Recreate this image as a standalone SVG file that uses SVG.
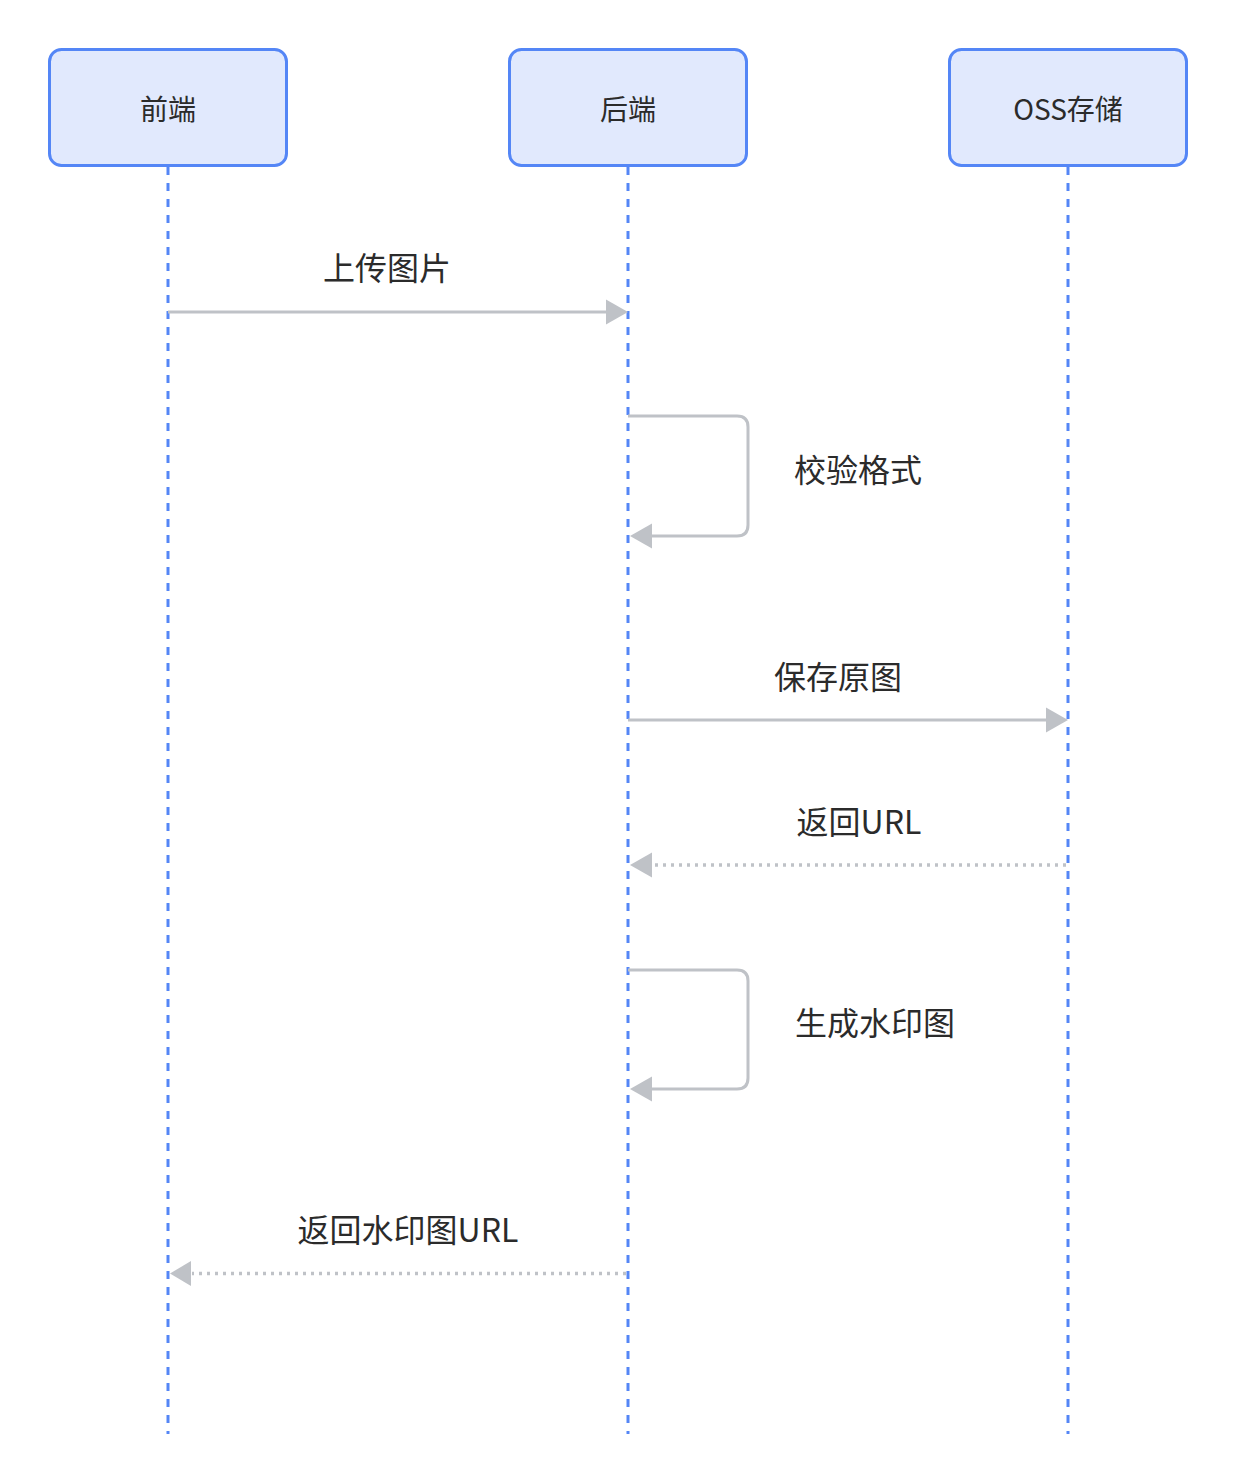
<svg xmlns="http://www.w3.org/2000/svg" width="1236" height="1482" viewBox="0 0 1236 1482">
<defs>
<style>
.actor rect{fill:#e1e9fd;stroke:#5486f6;stroke-width:3}
.actor text{font-family:"Noto Sans CJK SC","Noto Sans",sans-serif;font-size:28px;fill:#2b2b2b;text-anchor:middle;dominant-baseline:central}
.life{stroke:#5486f6;stroke-width:3;stroke-dasharray:8 8;fill:none}
.msg{stroke:#bfc2c7;stroke-width:3;fill:none}
.dot{stroke:#bfc2c7;stroke-width:3.5;stroke-dasharray:3 5;fill:none}
.lbl{font-family:"Noto Sans CJK SC","Noto Sans",sans-serif;font-size:32px;fill:#2b2b2b;text-anchor:middle;dominant-baseline:central}
.head{fill:#bfc2c7}
</style>
</defs>
<rect width="1236" height="1482" fill="#ffffff"/>
<g id="lifelines">
<line class="life" x1="168" y1="167" x2="168" y2="1434"/>
<line class="life" x1="628" y1="167" x2="628" y2="1434"/>
<line class="life" x1="1068" y1="167" x2="1068" y2="1434"/>
</g>
<g id="actor-frontend" class="actor"><rect x="49.5" y="49.5" width="237" height="116" rx="12"/><text x="168" y="108">前端</text></g>
<g id="actor-backend" class="actor"><rect x="509.5" y="49.5" width="237" height="116" rx="12"/><text x="628" y="108">后端</text></g>
<g id="actor-oss" class="actor"><rect x="949.5" y="49.5" width="237" height="116" rx="12"/><text x="1068" y="108">OSS存储</text></g>
<g id="connectors">
<line class="msg" x1="168" y1="312" x2="608" y2="312"/>
<polygon class="head" points="606,299.5 628,312 606,324.5"/>
<path class="msg" d="M628 416 H737 Q748 416 748 427 V525 Q748 536 737 536 H650"/>
<polygon class="head" points="652,523.5 630,536 652,548.5"/>
<line class="msg" x1="628" y1="720" x2="1048" y2="720"/>
<polygon class="head" points="1046,707.5 1068,720 1046,732.5"/>
<line class="dot" x1="1066" y1="865" x2="652" y2="865"/>
<polygon class="head" points="652,852.5 630,865 652,877.5"/>
<path class="msg" d="M628 970 H737 Q748 970 748 981 V1078 Q748 1089 737 1089 H650"/>
<polygon class="head" points="652,1076.5 630,1089 652,1101.5"/>
<line class="dot" x1="626" y1="1273.5" x2="192" y2="1273.5"/>
<polygon class="head" points="191,1261 170,1273.5 191,1286"/>
</g>
<g id="labels">
<text class="lbl" x="387" y="266">上传图片</text>
<text class="lbl" x="858" y="468">校验格式</text>
<text class="lbl" x="838" y="675">保存原图</text>
<text class="lbl" x="859" y="820">返回URL</text>
<text class="lbl" x="875" y="1021">生成水印图</text>
<text class="lbl" x="408" y="1228">返回水印图URL</text>
</g>
</svg>
